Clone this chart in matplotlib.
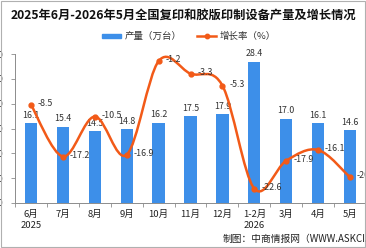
import numpy as np
import matplotlib
matplotlib.use("Agg")
import matplotlib.pyplot as plt
from matplotlib.path import Path
from matplotlib.patches import PathPatch, Rectangle

plt.rcParams['font.family'] = ['Noto Sans CJK SC', 'DejaVu Sans']

months = ['6月\n2025', '7月', '8月', '9月', '10月', '11月', '12月',
          '1-2月\n2026', '3月', '4月', '5月']
output = [16.1, 15.4, 14.5, 14.8, 16.2, 17.5, 17.9, 28.4, 17.0, 16.1, 14.6]
growth = [-8.5, -17.2, -10.5, -16.9, -1.2, -3.3, -5.3, -22.6, -17.9, -16.1, -20.7]
yticks = [0, 5, 10, 15, 20, 25, 30]

BLUE = '#3d8fe9'
ORANGE = '#f25a18'
GRAY = '#8c8c8c'


def smooth_path(xs, ys):
    # catmull-rom through the points, drawn as cubic bezier segments
    pts = np.column_stack([xs, ys]).astype(float)
    ext = np.vstack([pts[0], pts, pts[-1]])
    verts = [pts[0]]
    codes = [Path.MOVETO]
    for i in range(len(pts) - 1):
        p0, p1, p2, p3 = ext[i], ext[i + 1], ext[i + 2], ext[i + 3]
        verts += [p1 + (p2 - p0) / 6, p2 - (p3 - p1) / 6, p2]
        codes += [Path.CURVE4] * 3
    return Path(verts, codes)


fig = plt.figure(figsize=(3.66, 2.48), dpi=100)
fig.patches.append(Rectangle((0.002, 0.004), 0.996, 0.992, transform=fig.transFigure,
                             fill=False, edgecolor='#b0b0b0', lw=0.8))

ax = fig.add_axes([15 / 366, 1 - 203 / 248, 351 / 366, 149 / 248])
x = np.arange(len(months))
ax.bar(x, output, width=0.385, color=BLUE, zorder=2)
ax.set_xlim(-0.5, len(months) - 0.5)
ax.set_ylim(0, 30)
ax.set_yticks(yticks)
ax.set_yticklabels(['%.1f' % v for v in yticks], fontsize=6.5, color='#333333')
ax.set_xticks(x)
ax.set_xticklabels(months, fontsize=6.8, color='#222222', linespacing=1.35)
ax.set_xticks(np.arange(-0.5, len(months), 1), minor=True)
ax.tick_params(axis='x', which='major', length=0, pad=5)
ax.tick_params(axis='x', which='minor', length=3, color=GRAY, width=0.6)
ax.tick_params(axis='y', length=3, color=GRAY, width=0.6, pad=5.5)
for s in ['top', 'right']:
    ax.spines[s].set_visible(False)
for s in ['left', 'bottom']:
    ax.spines[s].set_color(GRAY)
    ax.spines[s].set_linewidth(0.7)

for xi, v in zip(x, output):
    ax.annotate('%.1f' % v, (xi, v), xytext=(0, 2.5), textcoords='offset points',
                ha='center', va='bottom', fontsize=6.4, color='#333333')

ax2 = ax.twinx()
ax2.set_ylim(-25, 0)
ax2.axis('off')
ax2.add_patch(PathPatch(smooth_path(x, growth), fill=False, edgecolor=ORANGE,
                        lw=1.8, zorder=3, clip_on=False))
ax2.plot(x, growth, 'o', color=ORANGE, ms=3.5, zorder=4, clip_on=False)
for xi, v in zip(x, growth):
    ax2.annotate('%.1f' % v, (xi, v), xytext=(5, 1), textcoords='offset points',
                 ha='left', va='center', fontsize=6.4, color='#333333',
                 annotation_clip=False)

fig.text(183 / 366, 1 - 15 / 248, '2025年6月-2026年5月全国复印和胶版印制设备产量及增长情况',
         ha='center', va='center', fontsize=8.8, fontweight='bold', color='#111111')

# legend drawn by hand to match the layout
fig.patches.append(Rectangle((102 / 366, 1 - 38 / 248), 19 / 366, 4 / 248,
                             transform=fig.transFigure, color=BLUE))
fig.text(125 / 366, 1 - 36 / 248, '产量（万台）', ha='left', va='center',
         fontsize=6.8, color='#333333')
fig.add_artist(plt.Line2D([197 / 366, 216 / 366], [1 - 36 / 248] * 2,
                          transform=fig.transFigure, color=ORANGE, lw=1.8))
fig.add_artist(plt.Line2D([206.5 / 366], [1 - 36 / 248], transform=fig.transFigure,
                          color=ORANGE, marker='o', ms=3.2, lw=0))
fig.text(220 / 366, 1 - 36 / 248, '增长率（%）', ha='left', va='center',
         fontsize=6.8, color='#333333')

fig.text(223 / 366, 1 - 239 / 248, '制图：中商情报网（WWW.ASKCI.COM）',
         ha='left', va='center', fontsize=7, color='#222222')

fig.savefig('out.png', dpi=100)
